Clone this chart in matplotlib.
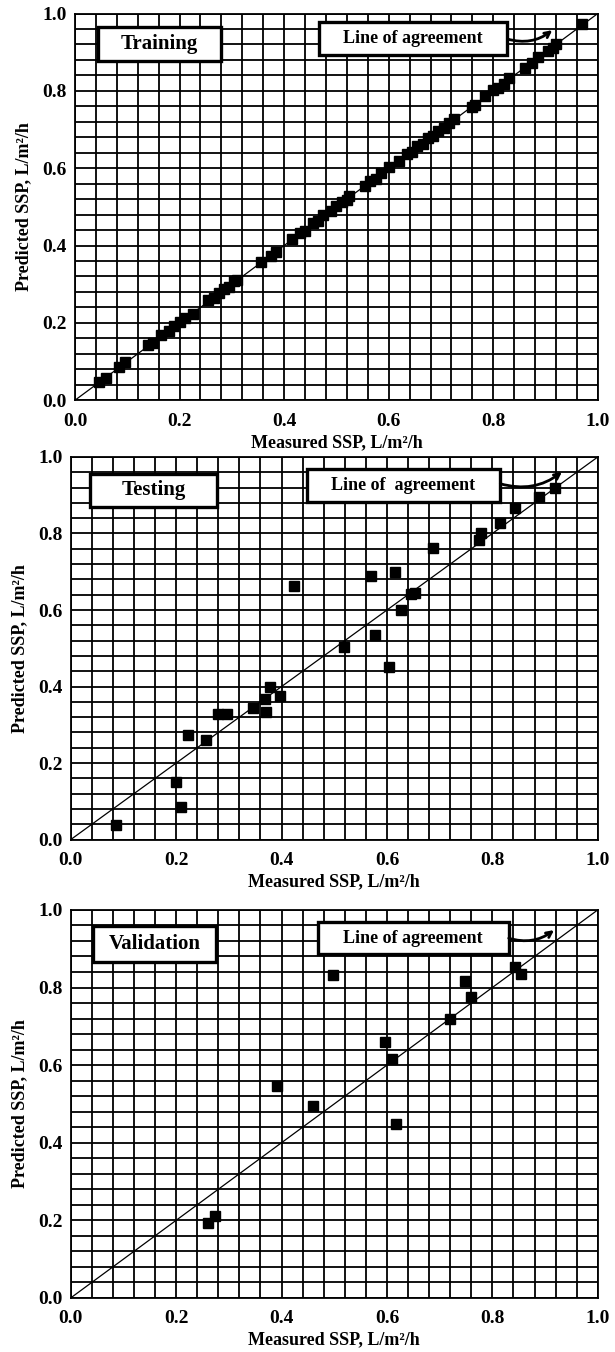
import matplotlib
matplotlib.use('Agg')
import matplotlib.pyplot as plt
from matplotlib.patches import Rectangle
from matplotlib.ticker import MultipleLocator

plt.rcParams['font.family'] = ['Liberation Serif', 'DejaVu Serif']
plt.rcParams['font.weight'] = 'bold'

# training set: measured vs predicted
train_meas = [0.045, 0.06, 0.085, 0.095, 0.14, 0.15, 0.165, 0.18, 0.19, 0.20, 0.21,
              0.225, 0.255, 0.265, 0.275, 0.285, 0.295, 0.305, 0.31, 0.355, 0.375,
              0.385, 0.415, 0.43, 0.44, 0.455, 0.465, 0.475, 0.49, 0.50, 0.51, 0.52,
              0.525, 0.555, 0.565, 0.575, 0.585, 0.60, 0.62, 0.635, 0.645, 0.655,
              0.665, 0.675, 0.685, 0.695, 0.705, 0.715, 0.725, 0.76, 0.765, 0.785,
              0.80, 0.81, 0.82, 0.83, 0.86, 0.875, 0.885, 0.905, 0.915, 0.92, 0.97]
train_pred = [0.048, 0.058, 0.086, 0.098, 0.142, 0.148, 0.168, 0.178, 0.192, 0.203, 0.212,
              0.222, 0.258, 0.263, 0.278, 0.287, 0.293, 0.308, 0.312, 0.357, 0.373,
              0.383, 0.418, 0.432, 0.438, 0.457, 0.463, 0.478, 0.488, 0.503, 0.512, 0.518,
              0.527, 0.553, 0.567, 0.573, 0.588, 0.602, 0.618, 0.637, 0.643, 0.657,
              0.663, 0.677, 0.683, 0.697, 0.703, 0.717, 0.727, 0.758, 0.763, 0.787,
              0.803, 0.808, 0.818, 0.832, 0.858, 0.873, 0.887, 0.903, 0.912, 0.922, 0.972]

test_meas = [0.085, 0.199, 0.21, 0.223, 0.256, 0.28, 0.297, 0.345, 0.37, 0.368, 0.379,
             0.397, 0.423, 0.518, 0.569, 0.578, 0.604, 0.616, 0.627, 0.646, 0.653,
             0.687, 0.774, 0.778, 0.814, 0.843, 0.889, 0.919]
test_pred = [0.039, 0.15, 0.085, 0.274, 0.259, 0.327, 0.327, 0.344, 0.333, 0.368, 0.398,
             0.374, 0.664, 0.503, 0.69, 0.534, 0.451, 0.699, 0.601, 0.643, 0.645,
             0.763, 0.784, 0.80, 0.827, 0.867, 0.895, 0.919]

val_meas = [0.261, 0.273, 0.392, 0.46, 0.498, 0.596, 0.609, 0.618, 0.719, 0.748, 0.759,
            0.843, 0.855]
val_pred = [0.193, 0.212, 0.545, 0.494, 0.831, 0.659, 0.616, 0.448, 0.718, 0.818, 0.775,
            0.852, 0.835]

panels = [
    dict(name='Training', x=train_meas, y=train_pred, rect=[0.122, 0.704, 0.850, 0.286],
         box=(0.043, 0.878, 0.237, 0.086), loa=(0.466, 0.893, 0.361, 0.084),
         loa_text='Line of agreement', arrow=((0.827, 0.934), (0.913, 0.957))),
    dict(name='Testing', x=test_meas, y=test_pred, rect=[0.115, 0.379, 0.857, 0.283],
         box=(0.037, 0.869, 0.24, 0.087), loa=(0.448, 0.882, 0.367, 0.087),
         loa_text='Line of  agreement', arrow=((0.815, 0.93), (0.932, 0.961))),
    dict(name='Validation', x=val_meas, y=val_pred, rect=[0.115, 0.040, 0.857, 0.287],
         box=(0.042, 0.867, 0.234, 0.092), loa=(0.469, 0.887, 0.362, 0.081),
         loa_text='Line of agreement', arrow=((0.831, 0.927), (0.917, 0.948))),
]

fig = plt.figure(figsize=(6.15, 13.52), dpi=100)

for p in panels:
    ax = fig.add_axes(p['rect'])
    ax.set_xlim(0, 1)
    ax.set_ylim(0, 1)
    ax.xaxis.set_major_locator(MultipleLocator(0.2))
    ax.yaxis.set_major_locator(MultipleLocator(0.2))
    ax.xaxis.set_minor_locator(MultipleLocator(0.04))
    ax.yaxis.set_minor_locator(MultipleLocator(0.04))
    ax.grid(which='both', color='black', linewidth=1.3)
    ax.set_axisbelow(True)
    ax.tick_params(which='both', length=0, labelsize=14)
    ax.tick_params(axis='x', pad=9)
    ax.tick_params(axis='y', pad=6)
    ax.xaxis.set_major_formatter(plt.FormatStrFormatter('%.1f'))
    ax.yaxis.set_major_formatter(plt.FormatStrFormatter('%.1f'))
    for s in ax.spines.values():
        s.set_linewidth(1.3)

    ax.plot([0, 1], [0, 1], color='black', linewidth=0.9, zorder=2)
    ax.plot(p['x'], p['y'], 's', color='black', markersize=7.8, zorder=3)

    bx, by, bw, bh = p['box']
    ax.add_patch(Rectangle((bx, by), bw, bh, facecolor='white', edgecolor='black',
                           linewidth=2.4, zorder=4))
    ax.text(bx + bw / 2, by + bh / 2, p['name'], ha='center', va='center',
            fontsize=15, fontweight='bold', zorder=5)

    lx, ly, lw, lh = p['loa']
    ax.add_patch(Rectangle((lx, ly), lw, lh, facecolor='white', edgecolor='black',
                           linewidth=2.4, zorder=4))
    ax.text(lx + lw / 2, ly + lh / 2, p['loa_text'], ha='center', va='center',
            fontsize=13, fontweight='bold', zorder=5)

    start, end = p['arrow']
    ax.annotate('', xy=end, xytext=start, zorder=5,
                arrowprops=dict(arrowstyle='->', color='black', lw=2.0,
                                connectionstyle='arc3,rad=0.25', shrinkA=0, shrinkB=0))

    ax.set_xlabel('Measured SSP, L/m\u00b2/h', fontsize=13, fontweight='bold', labelpad=3)
    ax.set_ylabel('Predicted SSP, L/m\u00b2/h', fontsize=13, fontweight='bold', labelpad=7)

fig.savefig('out.png', dpi=100)
